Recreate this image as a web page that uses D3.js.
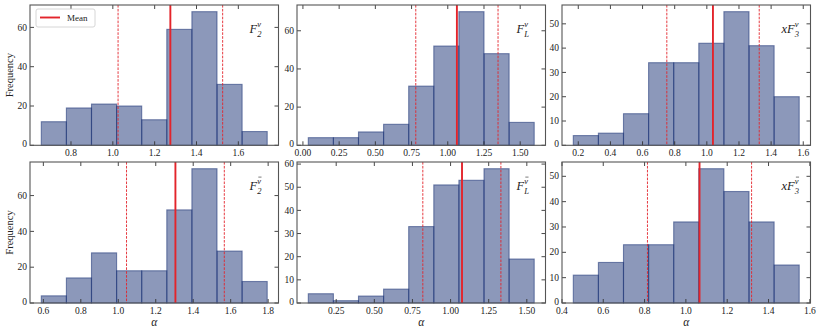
<!DOCTYPE html>
<html>
<head>
<meta charset="utf-8">
<script src="https://cdn.jsdelivr.net/npm/d3@7"></script>
<style>
	body { margin: 0; background: #fff; }
	svg text { font-family: "Liberation Serif", "DejaVu Serif", serif; fill: #222; }
</style>
</head>
<body>
<svg id="svgChart" width="822" height="333"></svg>
<script>
// values, one entry per panel (row by row)
const panelNames  = ["F2nu", "FLnu", "xF3nu", "F2nubar", "FLnubar", "xF3nubar"];
const labelPrefix = ["F", "F", "xF", "F", "F", "xF"];
const labelSub    = ["2", "L", "3", "2", "L", "3"];
const labelBar    = [false, false, false, true, true, true];
const binStarts   = [0.658, 0.037, 0.169, 0.589, 0.067, 0.455];
const binWidths   = [0.120, 0.1733, 0.1562, 0.134, 0.1646, 0.1215];
const counts = [
	[12, 19, 21, 20, 13, 59, 68, 31, 7],
	[4, 4, 7, 11, 31, 52, 70, 48, 12],
	[4, 5, 13, 34, 34, 42, 55, 41, 20],
	[4, 14, 28, 18, 18, 52, 75, 29, 12],
	[4, 1, 3, 6, 33, 51, 53, 58, 19],
	[11, 16, 23, 23, 32, 53, 44, 32, 15]
];
const means = [1.275, 1.063, 1.038, 1.305, 1.075, 1.066];
const lows  = [1.025, 0.779, 0.751, 1.044, 0.818, 0.814];
const highs = [1.525, 1.347, 1.326, 1.566, 1.330, 1.318];
const xTicks = [
	[0.8, 1.0, 1.2, 1.4, 1.6],
	[0, 0.25, 0.5, 0.75, 1.0, 1.25, 1.5],
	[0.2, 0.4, 0.6, 0.8, 1.0, 1.2, 1.4, 1.6],
	[0.6, 0.8, 1.0, 1.2, 1.4, 1.6, 1.8],
	[0.25, 0.5, 0.75, 1.0, 1.25, 1.5],
	[0.4, 0.6, 0.8, 1.0, 1.2, 1.4, 1.6]
];
const xTickFormats = [".1f", ".2f", ".1f", ".1f", ".2f", ".1f"];
const yTicks = [
	[0, 20, 40, 60],
	[0, 20, 40, 60],
	[0, 10, 20, 30, 40, 50],
	[0, 20, 40, 60],
	[0, 10, 20, 30, 40, 50, 60],
	[0, 10, 20, 30, 40, 50]
];

// layout of the 2x3 grid
const cols = [[30, 278.5], [297, 545.5], [562, 810.5]];
const rows = [[5, 145.3], [162, 303]];

const barColor = "#1a3175";
const meanColor = "#e3242b";
const svg = d3.select("#svgChart");

function drawPanel(i) {
	/*
		draws one histogram with its mean / spread lines, frame and ticks
	*/
	const col = cols[i % 3], row = rows[Math.floor(i / 3)];
	const g = svg.append("g").attr("class", "panel " + panelNames[i]);

	const bins = counts[i].map(function(c, k) {
		return {x0: binStarts[i] + k * binWidths[i], x1: binStarts[i] + (k + 1) * binWidths[i], n: c};
	});
	const lo = bins[0].x0, hi = bins[bins.length - 1].x1, pad = (hi - lo) * 0.05;
	const x = d3.scaleLinear().domain([lo - pad, hi + pad]).range(col);
	const y = d3.scaleLinear().domain([0, d3.max(counts[i]) * 1.05]).range([row[1], row[0]]);

	g.selectAll(".bar")
		.data(bins)
		.enter().append("rect")
		.attr("class", "bar")
		.attr("x", function(d) { return x(d.x0); })
		.attr("width", function(d) { return x(d.x1) - x(d.x0); })
		.attr("y", function(d) { return y(d.n); })
		.attr("height", function(d) { return y(0) - y(d.n); })
		.attr("fill", barColor).attr("fill-opacity", 0.5)
		.attr("stroke", barColor).attr("stroke-opacity", 0.55)
		.attr("stroke-width", 1.1);

	// spread (dashed) and mean (solid)
	[lows[i], highs[i]].forEach(function(v) {
		g.append("line")
			.attr("x1", x(v)).attr("x2", x(v))
			.attr("y1", row[0]).attr("y2", row[1])
			.attr("stroke", meanColor).attr("stroke-width", 0.9)
			.attr("stroke-dasharray", "2.6,1.3");
	});
	g.append("line")
		.attr("x1", x(means[i])).attr("x2", x(means[i]))
		.attr("y1", row[0]).attr("y2", row[1])
		.attr("stroke", meanColor).attr("stroke-width", 1.9);

	// axes: inward ticks on all four sides
	const fmt = d3.format(xTickFormats[i]);
	const xt = xTicks[i].filter(function(t) { return x(t) >= col[0] - 1 && x(t) <= col[1] + 1; });
	const tl = 4;
	xt.forEach(function(t) {
		const px = Math.max(col[0], Math.min(col[1], x(t)));
		g.append("line").attr("x1", px).attr("x2", px).attr("y1", row[1]).attr("y2", row[1] - tl)
			.attr("stroke", "#333").attr("stroke-width", 0.9);
		g.append("line").attr("x1", px).attr("x2", px).attr("y1", row[0]).attr("y2", row[0] + tl)
			.attr("stroke", "#333").attr("stroke-width", 0.9);
		g.append("text").attr("x", x(t)).attr("y", row[1] + 11)
			.attr("text-anchor", "middle").attr("font-size", "9.5px")
			.text(fmt(t));
	});
	yTicks[i].forEach(function(t) {
		g.append("line").attr("x1", col[0]).attr("x2", col[0] + tl).attr("y1", y(t)).attr("y2", y(t))
			.attr("stroke", "#333").attr("stroke-width", 0.9);
		g.append("line").attr("x1", col[1]).attr("x2", col[1] - tl).attr("y1", y(t)).attr("y2", y(t))
			.attr("stroke", "#333").attr("stroke-width", 0.9);
		g.append("text").attr("x", col[0] - 3).attr("y", y(t)).attr("dy", t === 0 ? "0.2em" : "0.33em")
			.attr("text-anchor", "end").attr("font-size", "9.5px")
			.text(t);
	});
	g.append("rect")
		.attr("x", col[0]).attr("y", row[0])
		.attr("width", col[1] - col[0]).attr("height", row[1] - row[0])
		.attr("fill", "none").attr("stroke", "#555").attr("stroke-width", 1.1);

	// panel label, e.g. F_2^nu (bar over nu for the anti-neutrino row)
	const lab = g.append("text")
		.attr("x", col[1] - 29).attr("y", row[0] + 28)
		.attr("font-style", "italic").attr("font-size", "12.5px");
	lab.append("tspan").text(labelPrefix[i]);
	const sup = lab.append("tspan").attr("font-size", "8.5px").attr("dy", -6.5).text("ν");
	const supW = sup.node().getComputedTextLength();
	lab.append("tspan").attr("font-size", "8.5px").attr("dx", -supW).attr("dy", 10).text(labelSub[i]);
	if (labelBar[i]) {
		const n = labelPrefix[i].length;
		const p0 = lab.node().getStartPositionOfChar(n), p1 = lab.node().getEndPositionOfChar(n);
		g.append("line").attr("x1", p0.x + 1.2).attr("x2", p1.x + 0.6)
			.attr("y1", p0.y - 6.4).attr("y2", p0.y - 6.4)
			.attr("stroke", "#222").attr("stroke-width", 0.6);
	}

	// axis titles
	if (i % 3 === 0) {
		const cy = (row[0] + row[1]) / 2;
		svg.append("text").attr("transform", "translate(13," + cy + ") rotate(-90)")
			.attr("text-anchor", "middle").attr("font-size", "10.5px")
			.text("Frequency");
	}
	if (i >= 3) {
		svg.append("text").attr("x", (col[0] + col[1]) / 2).attr("y", 326)
			.attr("text-anchor", "middle").attr("font-size", "11.5px").attr("font-style", "italic")
			.text("α");
	}
}

function drawLegend() {
	/*
		legend box in the first panel
	*/
	const lg = svg.append("g").attr("class", "legend");
	lg.append("rect").attr("x", 36).attr("y", 9).attr("width", 59).attr("height", 18)
		.attr("rx", 2).attr("fill", "#fff").attr("fill-opacity", 0.85)
		.attr("stroke", "#ccc").attr("stroke-width", 0.8);
	lg.append("line").attr("x1", 40).attr("x2", 60).attr("y1", 17.5).attr("y2", 17.5)
		.attr("stroke", meanColor).attr("stroke-width", 1.9);
	lg.append("text").attr("x", 67).attr("y", 20.8).attr("font-size", "9px").text("Mean");
}

for (let i = 0; i < counts.length; i++) drawPanel(i);
drawLegend();
</script>
</body>
</html>
